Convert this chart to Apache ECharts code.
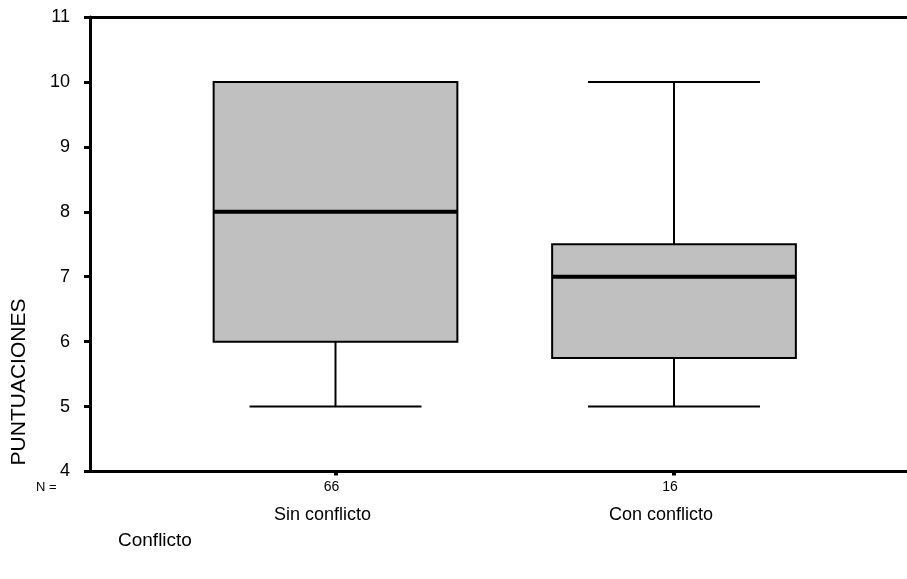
<!DOCTYPE html>
<html>
<head>
<meta charset="utf-8">
<script src="https://cdn.jsdelivr.net/npm/echarts@6/dist/echarts.min.js"></script>
<style>html,body{margin:0;padding:0;background:#fff}#c{width:907px;height:579px}</style>
</head>
<body>
<div id="c"></div>
<script>
const categories = ['Sin conflicto', 'Con conflicto'];
const counts = [66, 16];
const mins = [5, 5];
const q1s = [6, 5.75];
const medians = [8, 7];
const q3s = [10, 7.5];
const maxs = [10, 10];
const yTicks = [4, 5, 6, 7, 8, 9, 10, 11];

const FONT = '"Liberation Sans", Arial, Helvetica, sans-serif';
const chart = echarts.init(document.getElementById('c'), null, {renderer: 'canvas'});

const boxData = categories.map((c, i) => [i, mins[i], q1s[i], medians[i], q3s[i], maxs[i]]);

function renderBox(params, api) {
  const idx = api.value(0);
  const band = api.size([1, 0])[0];
  const bw = band * 0.72;
  const cw = band * 0.508;
  const pMin = api.coord([idx, api.value(1)]);
  const pQ1 = api.coord([idx, api.value(2)]);
  const pMed = api.coord([idx, api.value(3)]);
  const pQ3 = api.coord([idx, api.value(4)]);
  const pMax = api.coord([idx, api.value(5)]);
  const cx = pMed[0];
  const line = (x1, y1, x2, y2, w) => ({
    type: 'line', shape: {x1, y1, x2, y2},
    style: {stroke: '#000', lineWidth: w}
  });
  const children = [];
  if (pMax[1] < pQ3[1]) {
    children.push(line(cx, pMax[1], cx, pQ3[1], 2));
  }
  children.push(line(cx - cw / 2, pMax[1], cx + cw / 2, pMax[1], 2));
  children.push(line(cx, pQ1[1], cx, pMin[1], 2));
  children.push(line(cx - cw / 2, pMin[1], cx + cw / 2, pMin[1], 2));
  children.push({
    type: 'rect',
    shape: {x: cx - bw / 2, y: pQ3[1], width: bw, height: pQ1[1] - pQ3[1]},
    style: {fill: '#c0c0c0', stroke: '#000', lineWidth: 2}
  });
  children.push(line(cx - bw / 2, pMed[1], cx + bw / 2, pMed[1], 4));
  return {type: 'group', children};
}

chart.setOption({
  animation: false,
  backgroundColor: '#fff',
  grid: [
    {left: 90, top: 17, right: 0, bottom: 107.5},
    {left: 166.25, top: 17, width: 677, bottom: 107.5}
  ],
  xAxis: [
    {gridIndex: 0, type: 'value', position: 'bottom', min: 0, max: 1,
     axisLine: {show: true, lineStyle: {color: '#000', width: 3}},
     axisTick: {show: false}, axisLabel: {show: false}, splitLine: {show: false}},
    {gridIndex: 0, type: 'value', position: 'top', min: 0, max: 1,
     axisLine: {show: true, lineStyle: {color: '#000', width: 3}},
     axisTick: {show: false}, axisLabel: {show: false}, splitLine: {show: false}},
    {gridIndex: 1, type: 'category', data: categories, position: 'bottom',
     axisLine: {show: false},
     axisTick: {show: true, alignWithLabel: true, length: 4, lineStyle: {color: '#000', width: 4}},
     axisLabel: {
       margin: 8,
       formatter: (v, i) => '{n|' + counts[i] + '}\n{c|' + v + '}',
       rich: {
         n: {fontSize: 14, lineHeight: 16, fontFamily: FONT, color: '#000', padding: [0, 8, 0, 0]},
         c: {fontSize: 18, lineHeight: 40, fontFamily: FONT, color: '#000', padding: [0, 26, 0, 0]}
       }
     },
     splitLine: {show: false}}
  ],
  yAxis: [
    {gridIndex: 0, type: 'value', min: 4, max: 11, interval: 1,
     axisLine: {show: true, lineStyle: {color: '#000', width: 3}},
     axisTick: {show: true, length: 6, lineStyle: {color: '#000', width: 3}},
     axisLabel: {margin: 20, fontSize: 18, fontFamily: FONT, color: '#000',
       formatter: v => yTicks.includes(v) ? String(v) : ''},
     splitLine: {show: false}},
    {gridIndex: 1, type: 'value', min: 4, max: 11, interval: 1, show: false}
  ],
  graphic: [
    {type: 'text', x: 19, y: 382, rotation: Math.PI / 2,
     style: {text: 'PUNTUACIONES', fontSize: 21, fontFamily: FONT, fill: '#000',
       textAlign: 'center', textVerticalAlign: 'middle'}},
    {type: 'text', x: 36, y: 487,
     style: {text: 'N =', fontSize: 13, fontFamily: FONT, fill: '#000',
       textAlign: 'left', textVerticalAlign: 'middle'}},
    {type: 'text', x: 118, y: 541,
     style: {text: 'Conflicto', fontSize: 19, fontFamily: FONT, fill: '#000',
       textAlign: 'left', textVerticalAlign: 'middle'}}
  ],
  series: [{
    type: 'custom',
    xAxisIndex: 2,
    yAxisIndex: 1,
    renderItem: renderBox,
    encode: {x: 0, y: [1, 2, 3, 4, 5]},
    data: boxData,
    clip: false
  }]
});
</script>
</body>
</html>
